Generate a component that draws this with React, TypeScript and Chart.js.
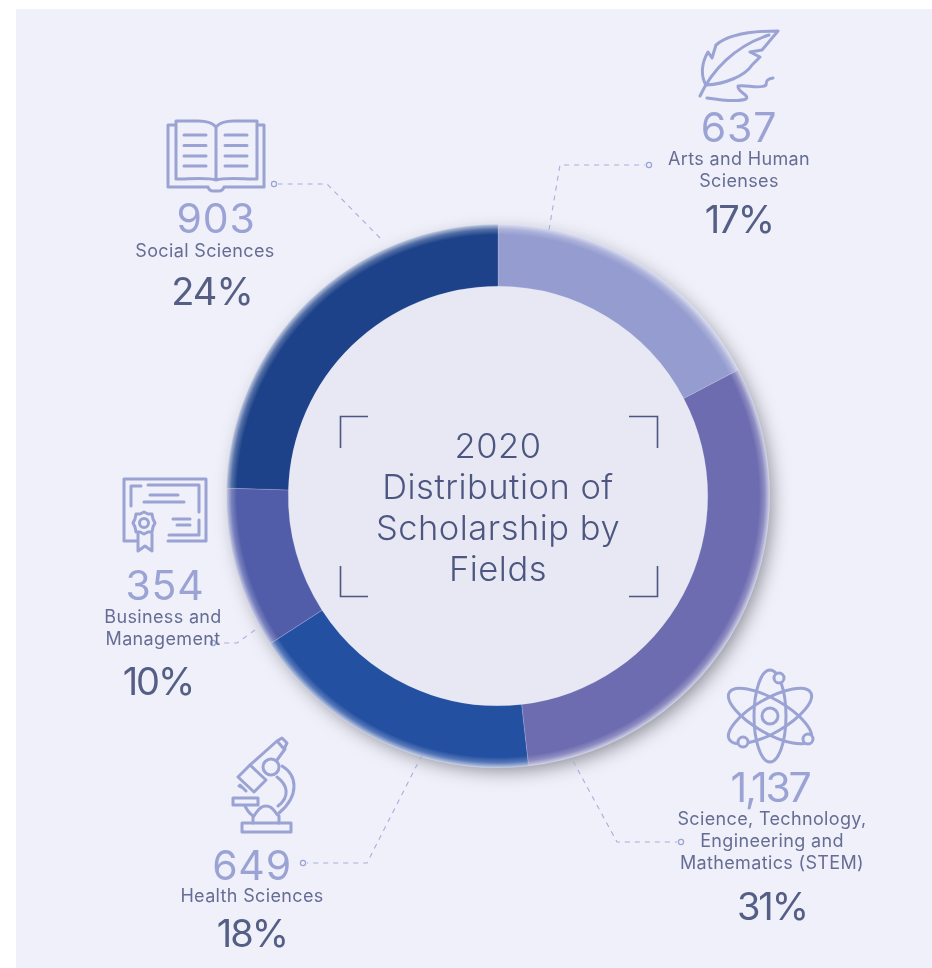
import React, { useEffect, useRef } from "react";
import { Chart, registerables } from "chart.js";

Chart.register(...registerables);

const categories = ["Arts and Human Sciences", "STEM", "Health Sciences", "Business and Management", "Social Sciences"];
const values = [637, 1137, 649, 354, 903];
const sliceColors = ["#959dd0", "#6e6cb0", "#2450a2", "#515da9", "#1d4289"];

const PANEL = "#eff0f9";
const DISC = "#e7e8f3";
const ICON = "#9aa3d4";
const LINE = "#a9aedb";
const DARK = "#4d5680";
const LABEL = "#666d94";
const PCT = "#555f85";
const FONT = "Inter, 'Noto Sans', sans-serif";

const centerLines = ["2020", "Distribution of", "Scholarship by", "Fields"];

type Block = { num: string; nx: number; ny: number; lines: string[]; lx: number; ly: number[]; pct: string; px: number; py: number };
const blocks: Block[] = [
  { num: "637", nx: 739, ny: 127, lines: ["Arts and Human", "Scienses"], lx: 739, ly: [159, 181], pct: "17%", px: 739, py: 219 },
  { num: "903", nx: 216, ny: 218, lines: ["Social Sciences"], lx: 205, ly: [251], pct: "24%", px: 212, py: 291 },
  { num: "354", nx: 165, ny: 585, lines: ["Business and", "Management"], lx: 163, ly: [617, 639], pct: "10%", px: 158, py: 681 },
  { num: "649", nx: 252, ny: 865, lines: ["Health Sciences"], lx: 252, ly: [896], pct: "18%", px: 252, py: 933 },
  { num: "1,137", nx: 770, ny: 787, lines: ["Science, Technology,", "Engineering and", "Mathematics (STEM)"], lx: 772, ly: [819, 841, 863], pct: "31%", px: 772, py: 906 },
];

const leaders = [
  { pts: "380,238 327,184 278,184", c: [274, 184] },
  { pts: "549,230 560,165 645,165", c: [649, 165] },
  { pts: "573,761 617,842 677,842", c: [681, 842] },
  { pts: "422,755 367,863 307,863", c: [303, 863] },
  { pts: "255,630 237,643 217,643", c: [213, 643] },
];

function mix(hex: string, to: string, t: number) {
  const p = (h: string, i: number) => parseInt(h.slice(i, i + 2), 16);
  const ch = [1, 3, 5].map((i) => Math.round(p(hex, i) * (1 - t) + p(to, i) * t));
  return `rgb(${ch[0]},${ch[1]},${ch[2]})`;
}

const ringUnderlay = {
  id: "ringUnderlay",
  beforeDatasetsDraw(chart: any) {
    const arc = chart.getDatasetMeta(0).data[0];
    if (!arc) return;
    const { x, y, outerRadius, innerRadius } = arc;
    const c = chart.ctx;
    c.save();
    c.shadowColor = "rgba(40,40,50,0.5)";
    c.shadowBlur = 18;
    c.shadowOffsetX = 5;
    c.shadowOffsetY = 6;
    c.fillStyle = PANEL;
    c.beginPath();
    c.arc(x, y, outerRadius - 3, 0, Math.PI * 2);
    c.fill();
    c.restore();
    c.save();
    c.fillStyle = DISC;
    c.beginPath();
    c.arc(x, y, innerRadius, 0, Math.PI * 2);
    c.fill();
    c.restore();
  },
};

function Corner({ d }: { d: string }) {
  return <path d={d} fill="none" stroke={DARK} strokeWidth={1.6} />;
}

function Icons() {
  const s = { fill: "none", stroke: ICON, strokeWidth: 3, strokeLinecap: "round", strokeLinejoin: "round" } as any;
  return (
    <g {...s}>
      {/* book */}
      <path d="M216 180 C208 177 190 179 176 179 V121 H198 C206 121 212 122 216 127 C220 122 226 121 234 121 H257 V179 C243 179 224 177 216 180 Z M216 127 V180" />
      <path d="M175 125 H168 V187 H208 C209 190 211 191 213 191 H219 C221 191 223 190 224 187 H264 V125 H258" />
      <path d="M184 135H206M184 145.5H206M184 156H206M184 166H206M225 135H247M225 145.5H247M225 156H247M225 166H247" />
      {/* feather */}
      <path d="M778 31 C755 31 730 33 716 45 L712 58 L708 52 C702 62 700 75 706 85 C725 84 745 76 752 65 L760 57 L750 52 L762 50 Z" />
      <path d="M700 96 C712 70 735 46 769 35" />
      <path d="M707 98 C720 100 738 102 746 99 C750 95 737 92 738 86 C745 84 760 90 766 85 C766 80 768 79 773 78" />
      {/* certificate */}
      <path d="M168 541 H206 V479 H124 V541 H137" />
      <path d="M131 506 V486 H141M148 485 H199 V512M199 520 V535 H169" />
      <path d="M150 495H178M144 502H184M173 519H190M177 525H190" />
      <path d="M144 512 L148 514 L152 514 L153 519 L155 523 L153 527 L152 532 L148 532 L144 534 L140 532 L136 532 L135 527 L133 523 L135 519 L136 514 L140 514 Z" />
      <circle cx="144" cy="523" r="4.5" />
      <path d="M138 534 V551 L145 546 L152 551 V534" />
      {/* atom */}
      <circle cx="770" cy="716" r="8" />
      <ellipse cx="770" cy="716" rx="16" ry="46" />
      <ellipse cx="770" cy="716" rx="47" ry="17" transform="rotate(30 770 716)" />
      <ellipse cx="770" cy="716" rx="47" ry="17" transform="rotate(-30 770 716)" />
      <circle cx="779" cy="678" r="5" fill={PANEL} />
      <circle cx="743" cy="742" r="5" fill={PANEL} />
      <circle cx="808" cy="739" r="5" fill={PANEL} />
      {/* microscope */}
      <path d="M242 823 H291 V832 H242 Z" />
      <path d="M253 823 V816 C257 815 257 806 266 806 C275 806 275 815 279 816 V823" />
      <path d="M233 798 H258 V805 H233 Z" />
      <path d="M245 806 C248 812 251 815 254 816" />
      <path d="M238 777 L250 765 L266 780 L254 792 Z" />
      <path d="M240 785 L246 791 M243 788 L239 786" />
      <circle cx="271" cy="767" r="8" />
      <path d="M250 765 L277 741 M285 749 L277 760 M277 741 L282 738 L287 743 L284 749 Z" />
      <path d="M282 766 C297 775 300 795 279 813" />
      <path d="M277 777 C288 785 290 797 278 806" />
    </g>
  );
}

export default function App() {
  const ref = useRef<HTMLCanvasElement>(null);
  useEffect(() => {
    document.body.style.margin = "0";
    const chart = new Chart(ref.current!, {
      type: "doughnut",
      data: {
        labels: categories,
        datasets: [
          {
            data: values,
            backgroundColor: (ctx: any) => {
              const col = sliceColors[ctx.dataIndex];
              const a = ctx.chart.chartArea;
              if (!a) return col;
              const cx = (a.left + a.right) / 2;
              const cy = (a.top + a.bottom) / 2;
              const r = Math.min(a.right - a.left, a.bottom - a.top) / 2;
              const g = ctx.chart.ctx.createRadialGradient(cx, cy, 0, cx, cy, r);
              g.addColorStop(0, col);
              g.addColorStop(0.96, col);
              g.addColorStop(0.98, mix(col, PANEL, 0.25));
              g.addColorStop(1, mix(col, PANEL, 0.8));
              return g;
            },
            borderWidth: 0.6,
            borderColor: "rgba(235,238,250,0.3)",
          },
        ],
      },
      options: {
        responsive: false,
        animation: false,
        cutout: "77.2%",
        rotation: 0,
        layout: { padding: { left: 226, right: 162, top: 224, bottom: 200 } },
        plugins: { legend: { display: false }, tooltip: { enabled: false } },
      },
      plugins: [ringUnderlay],
    } as any);
    return () => chart.destroy();
  }, []);

  const abs = (x: number, y: number, extra: any): any => ({
    position: "absolute",
    left: x,
    top: y,
    transform: "translate(-50%,-50%)",
    whiteSpace: "nowrap",
    fontFamily: FONT,
    lineHeight: 1,
    ...extra,
  });

  return (
    <div style={{ position: "absolute", left: 0, top: 0, width: 932, height: 968, background: "#fff", overflow: "hidden" }}>
      <div style={{ position: "absolute", left: 16, top: 9, width: 916, height: 959, background: PANEL }} />
      <canvas ref={ref} width={932} height={968} style={{ position: "absolute", left: 0, top: 0, width: 932, height: 968 }} />
      <svg width={932} height={968} style={{ position: "absolute", left: 0, top: 0 }}>
        {leaders.map((l, i) => (
          <g key={i}>
            <polyline points={l.pts} fill="none" stroke={LINE} strokeWidth={1.1} strokeDasharray="5 5" />
            <circle cx={l.c[0]} cy={l.c[1]} r={2.6} fill="none" stroke={ICON} strokeWidth={1.2} />
          </g>
        ))}
        <Icons />
        <Corner d="M368 416.5 H340.5 V448" />
        <Corner d="M629 416.5 H657.5 V448" />
        <Corner d="M340.5 566 V596.5 H368" />
        <Corner d="M657.5 566 V596.5 H629" />
      </svg>
      {centerLines.map((t, i) => (
        <div key={t} style={abs(498, 446 + i * 41, { fontSize: 34.5, fontWeight: 300, color: DARK, letterSpacing: 0.5 })}>{t}</div>
      ))}
      {blocks.map((b) => (
        <React.Fragment key={b.num}>
          <div style={abs(b.nx, b.ny, { fontSize: 41, fontWeight: 400, color: ICON, letterSpacing: b.num.length > 3 ? -2.2 : 0.8 })}>{b.num}</div>
          {b.lines.map((t, i) => (
            <div key={t} style={abs(b.lx, b.ly[i], { fontSize: 18, fontWeight: 400, color: LABEL, letterSpacing: 0.35 })}>{t}</div>
          ))}
          <div style={abs(b.px, b.py, { fontSize: 38, fontWeight: 400, color: PCT, letterSpacing: b.pct.includes("1") ? -2 : -1 })}>{b.pct}</div>
        </React.Fragment>
      ))}
    </div>
  );
}
